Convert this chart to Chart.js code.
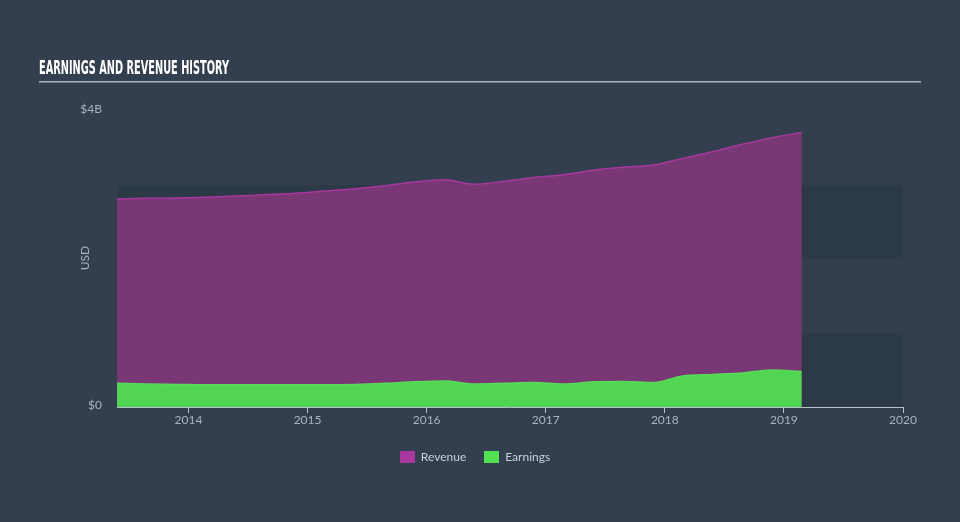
<!DOCTYPE html>
<html>
<head>
<meta charset="utf-8">
<script src="https://cdn.jsdelivr.net/npm/chart.js@4.4.1/dist/chart.umd.min.js"></script>
<style>
    html, body { margin: 0; padding: 0; background: #333f4f; }
    #wrap { position: relative; width: 960px; height: 522px; }
    #chartHistory { position: absolute; left: 0; top: 0; }
    #legend { position: absolute; top: 449px; left: -5px; width: 960px; text-align: center; font: 12px Lato, "Open Sans", sans-serif; color: #c9d0d8; }
    #legend span.item { display: inline-block; margin: 0 9px; }
    #legend span.box { display: inline-block; width: 15px; height: 12px; vertical-align: -2px; margin-right: 6px; }
</style>
</head>
<body>
<div id="wrap">
    <canvas id="chartHistory" width="960" height="522"></canvas>
    <div id="legend"></div>
</div>
<script>
// quarterly periods (decimal years)
var periods = [2013.40, 2013.65, 2013.90, 2014.15, 2014.40, 2014.65, 2014.90, 2015.15,
    2015.40, 2015.65, 2015.90, 2016.15, 2016.40, 2016.65, 2016.90, 2017.15,
    2017.40, 2017.65, 2017.90, 2018.15, 2018.40, 2018.65, 2018.90, 2019.15];
// USD billions
var revenue = [2.81, 2.82, 2.825, 2.835, 2.85, 2.87, 2.89, 2.92,
    2.95, 2.99, 3.04, 3.07, 3.01, 3.05, 3.10, 3.14,
    3.20, 3.24, 3.27, 3.36, 3.45, 3.55, 3.64, 3.71];
var earnings = [0.32, 0.31, 0.305, 0.30, 0.30, 0.30, 0.30, 0.30,
    0.305, 0.32, 0.34, 0.35, 0.31, 0.32, 0.33, 0.31,
    0.34, 0.345, 0.33, 0.42, 0.44, 0.46, 0.50, 0.48];
var yearTicks = [2014, 2015, 2016, 2017, 2018, 2019, 2020];
var valueTicks = [0, 4];

function toPoints(values) {
    return periods.map(function (p, i) { return { x: p, y: values[i] }; });
}

// title, underline, background bands and "USD"
var decorPlugin = {
    id: 'decor',
    beforeDraw: function (chart) {
        var c = chart.ctx, ys = chart.scales.y, area = chart.chartArea;
        c.save();
        c.fillStyle = '#2c3946';
        [[0, 1], [2, 3]].forEach(function (b) {
            var y1 = ys.getPixelForValue(b[1]), y0 = ys.getPixelForValue(b[0]);
            c.fillRect(area.left, y1, area.right - area.left, y0 - y1);
        });
        // condensed title squeezed to the reference width
        var title = 'EARNINGS AND REVENUE HISTORY';
        c.font = 'bold 19px "DejaVu Sans Condensed", "Liberation Sans Narrow", sans-serif';
        c.textBaseline = 'alphabetic';
        var w = c.measureText(title).width;
        c.save();
        c.translate(39, 74);
        c.scale(190 / w, 1);
        c.fillStyle = '#ffffff';
        c.fillText(title, 0, 0);
        c.restore();
        c.fillStyle = '#aeb4bc';
        c.fillRect(39, 81, 882, 1.5);
        c.translate(85, 258);
        c.rotate(-Math.PI / 2);
        c.textAlign = 'center';
        c.textBaseline = 'middle';
        c.font = '12px Lato, "Open Sans", sans-serif';
        c.fillStyle = '#a9b3bd';
        c.fillText('USD', 0, 0);
        c.restore();
    }
};

var chartHistory = new Chart(document.getElementById('chartHistory').getContext('2d'), {
    type: 'line',
    data: {
        datasets: [{
            label: 'Revenue',
            data: toPoints(revenue),
            borderColor: '#a8389e',
            backgroundColor: '#7a3775',
            legendColor: '#a8389e',
            borderWidth: 1.5,
            fill: 'origin',
            pointRadius: 0,
            cubicInterpolationMode: 'monotone',
            order: 2
        }, {
            label: 'Earnings',
            data: toPoints(earnings),
            borderColor: '#58dc58',
            backgroundColor: '#52d552',
            legendColor: '#52e052',
            borderWidth: 1.5,
            fill: 'origin',
            pointRadius: 0,
            cubicInterpolationMode: 'monotone',
            order: 1
        }]
    },
    options: {
        responsive: false,
        animation: false,
        layout: { padding: { left: 0, right: 57, top: 111, bottom: 0 } },
        plugins: { legend: { display: false }, tooltip: { enabled: false } },
        scales: {
            x: {
                type: 'linear',
                min: 2013.4,
                max: 2020,
                afterBuildTicks: function (scale) {
                    scale.ticks = yearTicks.map(function (v) { return { value: v }; });
                },
                afterFit: function (scale) { scale.height = 115; },
                grid: { drawOnChartArea: false, drawTicks: true, tickLength: 6, color: '#b8c0c8' },
                border: { display: true, color: '#b8c0c8', width: 1 },
                ticks: {
                    color: '#a9b3bd',
                    padding: 0,
                    maxRotation: 0,
                    font: { family: 'Lato, "Open Sans", sans-serif', size: 12 },
                    callback: function (v) { return String(v); }
                }
            },
            y: {
                min: 0,
                max: 4,
                afterBuildTicks: function (scale) {
                    scale.ticks = valueTicks.map(function (v) { return { value: v }; });
                },
                afterFit: function (scale) { scale.width = 117; },
                grid: { display: false },
                border: { display: false },
                ticks: {
                    color: '#a9b3bd',
                    padding: 7,
                    labelOffset: -2,
                    font: { family: 'Lato, "Open Sans", sans-serif', size: 12 },
                    callback: function (v) { return v === 0 ? '$0' : '$' + v + 'B'; }
                }
            }
        }
    },
    plugins: [decorPlugin]
});

var legendHtml = '';
chartHistory.data.datasets.forEach(function (ds) {
    legendHtml += '<span class="item"><span class="box" style="background:' + ds.legendColor + '"></span>' + ds.label + '</span>';
});
document.getElementById('legend').innerHTML = legendHtml;
</script>
</body>
</html>
